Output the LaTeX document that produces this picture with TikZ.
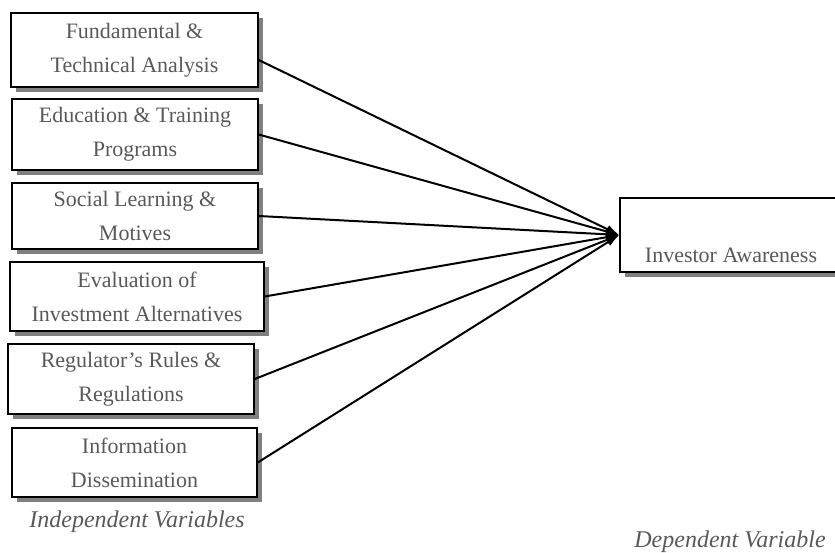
\documentclass[tikz,border=0pt]{standalone}
\usepackage{fontspec}
\setmainfont{Liberation Serif}
\usetikzlibrary{arrows.meta,shadows}

\begin{document}
\begin{tikzpicture}[x=0.75pt,y=-0.75pt,
    varbox/.style={draw=black, line width=1.1pt, fill=white, align=center, text=black!65,
        font=\fontsize{16.5}{25.5}\selectfont, inner sep=0pt,
        drop shadow={shadow xshift=3.5pt, shadow yshift=-3.5pt, fill=black!50, opacity=1}},
    link/.style={line width=1.5pt, -{Latex[length=10pt,width=6.5pt]}},
    caption/.style={text=black!65, font=\fontsize{18}{20}\selectfont\itshape}]
    \useasboundingbox (0,0) rectangle (835,553);
    \clip (0,0) rectangle (835,553);

    % independent variables
    \node[varbox, minimum width=185.25pt, minimum height=55.5pt] (fund) at (134.5,50) {Fundamental \&\\Technical Analysis};
    \node[varbox, minimum width=184.5pt, minimum height=53.25pt] (edu) at (135,134.5) {Education \& Training\\Programs};
    \node[varbox, minimum width=184.5pt, minimum height=49.5pt] (social) at (135,216) {Social Learning \&\\Motives};
    \node[varbox, minimum width=190.5pt, minimum height=51.75pt] (eval) at (137,296.5) {Evaluation of\\Investment Alternatives};
    \node[varbox, minimum width=184.5pt, minimum height=52.5pt] (rules) at (131,379) {Regulator's Rules \&\\Regulations};
    \node[varbox, minimum width=183.75pt, minimum height=51.75pt] (info) at (134.5,462.5) {Information\\Dissemination};

    % dependent variable (box runs off the right edge)
    \node[varbox, minimum width=166.5pt, inner ysep=3pt, text height=45pt, text depth=4.5pt] (aware) at (731,235) {Investor Awareness};

    \node[caption] (indep) at (137,522) {Independent Variables};
    \node[caption] (dep) at (730,542) {Dependent Variable};

    \draw[link] ([yshift=-7.5pt]fund.east) -- (aware.west);
    \foreach \v in {edu,social,eval,rules,info}
        \draw[link] (\v.east) -- (aware.west);
\end{tikzpicture}
\end{document}
